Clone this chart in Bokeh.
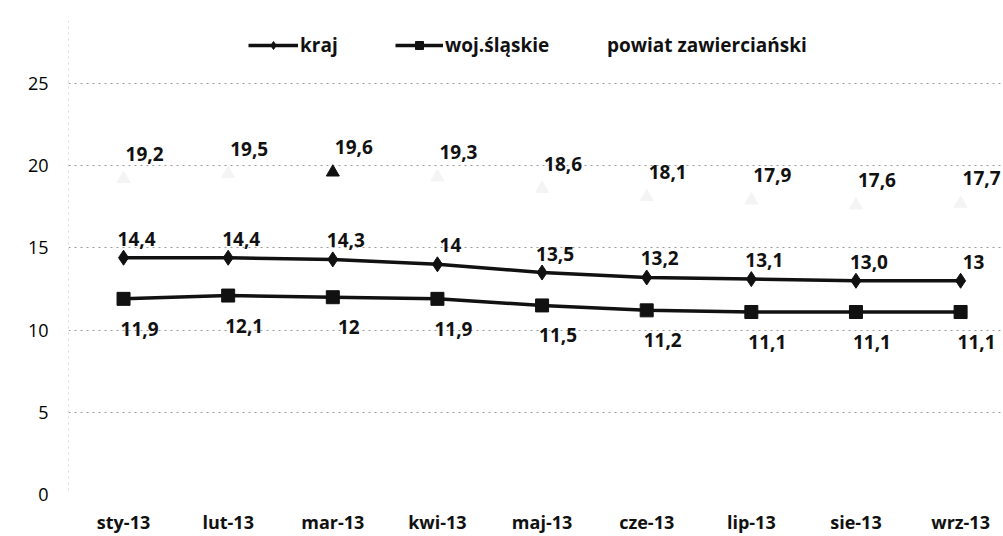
from bokeh.plotting import figure
from bokeh.models import Range1d, FixedTicker, Legend, LegendItem, ColumnDataSource, LabelSet, Span
from bokeh.core.properties import value
from bokeh.embed import file_html
from bokeh.resources import INLINE

months = ["sty-13", "lut-13", "mar-13", "kwi-13", "maj-13", "cze-13", "lip-13", "sie-13", "wrz-13"]
kraj = [14.4, 14.4, 14.3, 14.0, 13.5, 13.2, 13.1, 13.0, 13.0]
kraj_labels = ["14,4", "14,4", "14,3", "14", "13,5", "13,2", "13,1", "13,0", "13"]
woj = [11.9, 12.1, 12.0, 11.9, 11.5, 11.2, 11.1, 11.1, 11.1]
woj_labels = ["11,9", "12,1", "12", "11,9", "11,5", "11,2", "11,1", "11,1", "11,1"]
powiat = [19.2, 19.5, 19.6, 19.3, 18.6, 18.1, 17.9, 17.6, 17.7]
powiat_labels = ["19,2", "19,5", "19,6", "19,3", "18,6", "18,1", "17,9", "17,6", "17,7"]
y_ticks = [0, 5, 10, 15, 20, 25]

xs = list(range(len(months)))
FONT = "Open Sans"

src = ColumnDataSource(dict(
    x=xs, kraj=kraj, kraj_lab=kraj_labels, woj=woj, woj_lab=woj_labels,
    powiat=powiat, powiat_lab=powiat_labels,
    tri_color=["#111111" if m == "mar-13" else "#f4f4f4" for m in months],
))

p = figure(width=1003, height=536, output_backend="svg", toolbar_location=None,
           x_range=Range1d(-0.526, 8.41), y_range=Range1d(0, 28.83),
           min_border_left=68, min_border_right=0, min_border_top=20, min_border_bottom=42)
p.outline_line_color = None
p.background_fill_color = "white"
p.border_fill_color = "white"

# grid
p.xgrid.grid_line_color = None
p.ygrid.ticker = FixedTicker(ticks=y_ticks)
p.ygrid.grid_line_color = "#9a9a9a"
p.ygrid.grid_line_dash = "dotted"
p.ygrid.grid_line_width = 1

p.add_layout(Span(location=-0.526, dimension="height", line_color="#b5b5b5",
                  line_dash="dotted", line_width=1))

# axes
p.yaxis.ticker = FixedTicker(ticks=y_ticks)
p.yaxis.axis_line_color = None
p.yaxis.major_tick_line_color = None
p.yaxis.major_tick_out = 0
p.yaxis.major_tick_in = 0
p.yaxis.minor_tick_line_color = None
p.yaxis.major_label_text_font = FONT
p.yaxis.major_label_text_font_size = "18px"
p.yaxis.major_label_text_color = "#000000"
p.yaxis.major_label_standoff = 20

p.xaxis.ticker = FixedTicker(ticks=xs)
p.xaxis.major_label_overrides = {i: m for i, m in zip(xs, months)}
p.xaxis.axis_line_color = None
p.xaxis.major_tick_line_color = None
p.xaxis.major_tick_out = 0
p.xaxis.major_tick_in = 0
p.xaxis.minor_tick_line_color = None
p.xaxis.major_label_text_font = FONT
p.xaxis.major_label_text_font_style = "bold"
p.xaxis.major_label_text_font_size = "18px"
p.xaxis.major_label_text_color = "#111111"
p.xaxis.major_label_standoff = 15

# series
kl = p.line("x", "kraj", source=src, line_color="#111111", line_width=3.5)
ks = p.scatter("x", "kraj", source=src, marker="diamond", size=15, color="#111111")
wl = p.line("x", "woj", source=src, line_color="#111111", line_width=3.5)
ws = p.scatter("x", "woj", source=src, marker="square", size=13, color="#111111")
pl = p.line("x", "powiat", source=src, line_alpha=0)
ps = p.scatter("x", "powiat", source=src, marker="triangle", size=13,
               fill_color="tri_color", line_color="tri_color")

lab_kw = dict(source=src, text_font=value(FONT), text_font_style="bold",
              text_font_size="19px", text_color="#111111",
              text_align="center", text_baseline="middle")
p.add_layout(LabelSet(x="x", y="kraj", text="kraj_lab", x_offset=13, y_offset=19, **lab_kw))
p.add_layout(LabelSet(x="x", y="woj", text="woj_lab", x_offset=16, y_offset=-30, **lab_kw))
p.add_layout(LabelSet(x="x", y="powiat", text="powiat_lab", x_offset=21, y_offset=25, **lab_kw))

# legends (three single-item legends placed like the original)
def mk_legend(label, renderers, vx, gw):
    lg = Legend(items=[LegendItem(label=label, renderers=renderers)],
                location=(vx, 436), orientation="horizontal",
                glyph_width=gw, glyph_height=20, label_standoff=2,
                padding=0, margin=0, spacing=0,
                border_line_color=None, background_fill_alpha=0,
                label_text_font=FONT, label_text_font_style="bold",
                label_text_font_size="19px", label_text_color="#111111")
    p.add_layout(lg, "center")

mk_legend("kraj", [kl, ks], 180, 50)
mk_legend("woj.śląskie", [wl, ws], 327, 48)
mk_legend("powiat zawierciański", [pl], 535, 2)

open("out.html", "w").write(file_html(p, INLINE))
